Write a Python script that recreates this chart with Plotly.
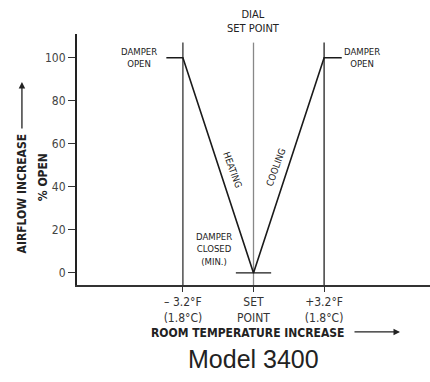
import plotly.graph_objects as go

# damper curve: temperature offset (F) vs % open
curve_x = [-3.95, -3.2, 0, 3.2, 4.0]
curve_y = [100, 100, 0, 100, 100]
# minimum position bar at set point
min_x = [-0.8, 0.8]
min_y = [0, 0]
# reference verticals
vline_x = [-3.2, 0, 3.2]
vline_col = ["#333", "#888", "#222"]
vline_top = 107
x_ticks = [-3.2, 0, 3.2]
x_ticktext = ["– 3.2°F<br>(1.8°C)", "SET<br>POINT", "+3.2°F<br>(1.8°C)"]
y_ticks = [0, 20, 40, 60, 80, 100]
y_lo, y_hi = -5.6, 111

NARROW = "Liberation Sans Narrow, DejaVu Sans Condensed, Arial Narrow, sans-serif"

fig = go.Figure()
for vx, vc in zip(vline_x, vline_col):
    fig.add_trace(go.Scatter(x=[vx, vx], y=[y_lo, vline_top], mode="lines",
                             line=dict(color=vc, width=1.3), hoverinfo="skip"))
fig.add_trace(go.Scatter(x=curve_x, y=curve_y, mode="lines",
                         line=dict(color="#1a1a1a", width=1.6), hoverinfo="skip"))
fig.add_trace(go.Scatter(x=min_x, y=min_y, mode="lines",
                         line=dict(color="#1a1a1a", width=1.3), hoverinfo="skip"))

small = dict(family=NARROW, size=9.5, color="#222")
ann = [
    dict(x=-5.17, y=100, text="DAMPER<br>OPEN", font=small),
    dict(x=4.93, y=100, text="DAMPER<br>OPEN", font=small),
    dict(x=-1.77, y=11, text="DAMPER<br>CLOSED<br>(MIN.)", font=small),
    dict(x=-0.95, y=48, text="HEATING", font=small, textangle=70),
    dict(x=1.0, y=49, text="COOLING", font=small, textangle=-70),
]
for a in ann:
    fig.add_annotation(xref="x", yref="y", showarrow=False,
                       xanchor="center", yanchor="middle", **a)

fig.add_annotation(xref="x", yref="paper", x=0, y=1.05, showarrow=False,
                   xanchor="center", yanchor="middle",
                   text="DIAL<br>SET POINT", font=dict(family=NARROW, size=11, color="#222"))
# axis titles
bold = dict(family=NARROW, size=12, color="#222")
mid = dict(xanchor="center", yanchor="middle", showarrow=False, xref="paper", yref="paper")
fig.add_annotation(x=-0.156, y=0.3645, text="<b>AIRFLOW INCREASE</b>",
                   textangle=-90, font=bold, **mid)
fig.add_annotation(x=-0.096, y=0.43, text="<b>% OPEN</b>", textangle=-90, font=bold, **mid)
fig.add_annotation(xref="paper", yref="paper", x=-0.156, y=0.809, ax=0, ay=48,
                   showarrow=True, arrowhead=2, arrowsize=1, arrowwidth=1.3,
                   arrowcolor="#222", text="")
fig.add_annotation(x=0.4816, y=-0.191, text="<b>ROOM TEMPERATURE INCREASE</b>",
                   font=bold, **mid)
fig.add_annotation(xref="paper", yref="paper", x=0.915, y=-0.187, ax=-47, ay=0,
                   showarrow=True, arrowhead=2, arrowsize=1, arrowwidth=1.3,
                   arrowcolor="#222", text="")
fig.add_annotation(x=0.4986, y=-0.295, text="Model 3400",
                   font=dict(family="Liberation Sans, Arial, sans-serif", size=25, color="#222"),
                   **mid)

fig.update_layout(
    width=430, height=382,
    margin=dict(l=77, r=0, t=34, b=97),
    paper_bgcolor="white", plot_bgcolor="white",
    showlegend=False,
    xaxis=dict(range=[-8, 8], showgrid=False, zeroline=False, showline=True,
               linecolor="#333", linewidth=2, ticks="outside", ticklen=5,
               tickcolor="#333", tickwidth=1, tickvals=x_ticks, ticktext=x_ticktext,
               tickfont=dict(family=NARROW, size=12, color="#333"), fixedrange=True),
    yaxis=dict(range=[y_lo, y_hi], showgrid=False, zeroline=False, showline=True,
               linecolor="#222", linewidth=2, ticks="outside", ticklen=7,
               tickcolor="#333", tickwidth=1, tickvals=y_ticks,
               tickfont=dict(family=NARROW, size=12, color="#444"), fixedrange=True),
)

# drop the default page margin so the figure sits at the window corner
fig.write_html("out.html", config={"displayModeBar": False},
               post_script="document.body.style.margin='0';")
